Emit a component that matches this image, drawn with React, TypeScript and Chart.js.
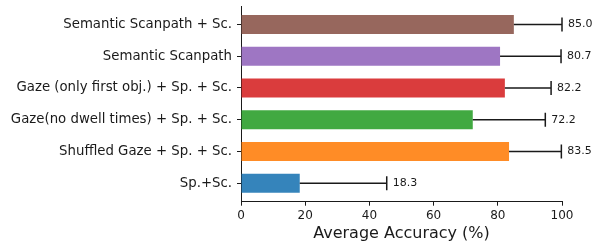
import React, { useEffect, useRef } from "react";
import { Chart, registerables } from "chart.js";

Chart.register(...registerables);

const categories = [
  "Semantic Scanpath + Sc.",
  "Semantic Scanpath",
  "Gaze (only first obj.) + Sp. + Sc.",
  "Gaze(no dwell times) + Sp. + Sc.",
  "Shuffled Gaze + Sp. + Sc.",
  "Sp.+Sc.",
];
const accuracy = [85.0, 80.7, 82.2, 72.2, 83.5, 18.3];
const errors = [15.0, 19.0, 14.4, 22.6, 16.3, 27.1];
const xTicks = [0, 20, 40, 60, 80, 100];
const barColors = [
  "rgba(140,86,75,0.9)",
  "rgba(148,103,189,0.9)",
  "rgba(214,39,40,0.9)",
  "rgba(44,160,44,0.9)",
  "rgba(255,127,14,0.9)",
  "rgba(31,119,180,0.9)",
];

const FONT = "DejaVu Sans";
const TEXT = "#1a1a1a";

const errorBarPlugin = {
  id: "errorBars",
  afterDatasetsDraw(chart: any) {
    const { ctx, scales } = chart;
    const xs = scales.x;
    const ys = scales.y;
    ctx.save();
    ctx.strokeStyle = "#1a1a1a";
    ctx.lineWidth = 1.5;
    ctx.fillStyle = TEXT;
    ctx.font = `11px "${FONT}"`;
    ctx.textAlign = "left";
    ctx.textBaseline = "middle";
    accuracy.forEach((v, i) => {
      const x0 = xs.getPixelForValue(v);
      const x1 = xs.getPixelForValue(v + errors[i]);
      const y = ys.getPixelForValue(i);
      ctx.beginPath();
      ctx.moveTo(x0, y);
      ctx.lineTo(x1, y);
      ctx.moveTo(x1, y - 7);
      ctx.lineTo(x1, y + 7);
      ctx.stroke();
      ctx.fillText(v.toFixed(1), x1 + 6, y);
    });
    ctx.restore();
  },
};

export default function App() {
  const ref = useRef<HTMLCanvasElement | null>(null);
  useEffect(() => {
    if (!ref.current) return;
    Chart.defaults.font.family = FONT;
    const chart = new Chart(ref.current, {
      type: "bar",
      data: {
        datasets: [
          {
            data: accuracy.map((v, i) => ({ x: v, y: i })),
            backgroundColor: barColors,
            borderWidth: 0,
            barPercentage: 0.6,
            categoryPercentage: 1,
          },
        ],
      },
      options: {
        indexAxis: "y",
        responsive: false,
        animation: false,
        layout: { padding: { top: 6, right: 32, bottom: 3.6, left: 0 } },
        plugins: { legend: { display: false }, tooltip: { enabled: false } },
        scales: {
          x: {
            type: "linear",
            min: 0,
            max: 100,
            offset: false,
            afterBuildTicks: (s: any) => {
              s.ticks = xTicks.map((v) => ({ value: v }));
            },
            afterFit: (s: any) => {
              s.height = 41.7;
              s.paddingLeft = 0;
              s.paddingRight = 0;
            },
            grid: {
              display: true,
              drawOnChartArea: false,
              drawTicks: true,
              tickLength: 4,
              offset: false,
              color: "#1a1a1a",
            },
            border: { display: true, color: "#1a1a1a", width: 1 },
            ticks: {
              color: TEXT,
              font: { size: 12, family: FONT },
              padding: 3,
              maxRotation: 0,
            },
            title: {
              display: true,
              text: "Average Accuracy (%)",
              color: TEXT,
              font: { size: 16, family: FONT },
              padding: { top: 0, bottom: 0 },
            },
          },
          y: {
            type: "linear",
            min: -0.58,
            max: 5.58,
            reverse: true,
            offset: false,
            afterBuildTicks: (s: any) => {
              s.ticks = categories.map((_, i) => ({ value: i }));
            },
            afterFit: (s: any) => {
              s.width = 241;
              s.paddingTop = 0;
              s.paddingBottom = 0;
            },
            grid: {
              display: true,
              drawOnChartArea: false,
              drawTicks: true,
              tickLength: 4,
              offset: false,
              color: "#1a1a1a",
            },
            border: { display: true, color: "#1a1a1a", width: 1 },
            ticks: {
              color: TEXT,
              font: { size: 13.3, family: FONT },
              padding: 5,
              callback: (v: any) => categories[v as number] ?? "",
            },
          },
        },
      },
      plugins: [errorBarPlugin],
    } as any);
    return () => chart.destroy();
  }, []);
  return (
    <div style={{ position: "absolute", left: 0, top: 0, width: 594, height: 247 }}>
      <canvas ref={ref} width={594} height={247} style={{ display: "block" }} />
    </div>
  );
}
